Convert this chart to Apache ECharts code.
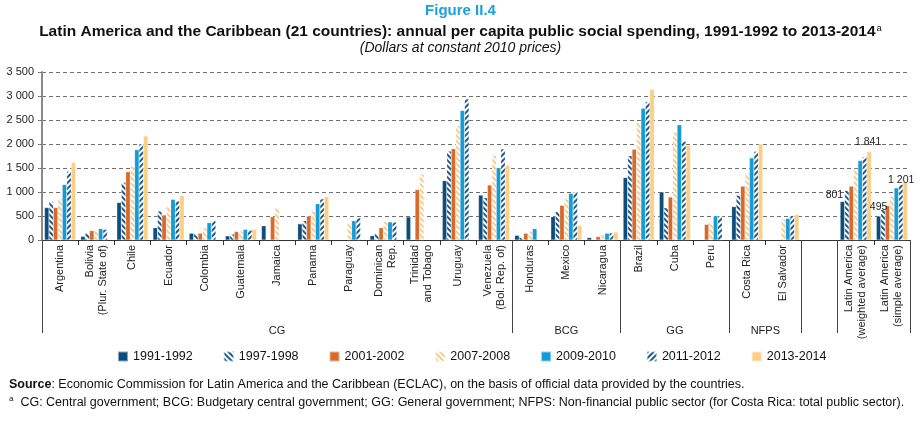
<!DOCTYPE html>
<html><head><meta charset="utf-8">
<script src="https://cdn.jsdelivr.net/npm/echarts@6/dist/echarts.min.js"></script>
<style>html,body{margin:0;padding:0;background:#fff}#c{width:921px;height:421px}</style>
</head><body><div id="c"></div>
<script>
// ---- data ----
const categories = ['Argentina','Bolivia\n(Plur. State of)','Chile','Ecuador','Colombia','Guatemala','Jamaica','Panama','Paraguay','Dominican\nRep.','Trinidad\nand Tobago','Uruguay','Venezuela\n(Bol. Rep. of)','Honduras','Mexico','Nicaragua','Brazil','Cuba','Peru','Costa Rica','El Salvador','','Latin America\n(weighted average)','Latin America\n(simple average)'];
const groupNames = ['CG','BCG','GG','NFPS'];
const groupCenters = [6.5, 14.5, 17.5, 20];
const groupBounds = [0, 13, 16, 19, 21, 22, 24];
const periods = ['1991-1992','1997-1998','2001-2002','2007-2008','2009-2010','2011-2012','2013-2014'];
const v1991 = [675, 75, 780, 255, 140, 85, 295, 335, null, 90, 480, 1235, 935, 95, 485, 50, 1300, 1000, null, 695, null, null, 801, 495];
const v1997 = [800, 140, 1200, 600, 130, 120, null, 400, null, 130, null, 1850, 880, 60, 590, null, 1755, 670, null, 930, null, null, 1030, 630];
const v2001 = [675, 195, 1420, 520, 140, 175, 485, 495, null, 255, 1050, 1900, 1145, 140, 720, 70, 1890, 895, 325, 1120, null, null, 1120, 715];
const v2007 = [870, 195, 1535, 700, 250, 185, 665, 600, 340, 380, 1375, 2380, 1760, 180, 855, 105, 2450, 2245, 370, 1395, 435, null, 1480, 910];
const v2009 = [1155, 235, 1880, 845, 360, 220, null, 755, 400, 375, null, 2695, 1505, 235, 970, 140, 2745, 2400, 500, 1710, 450, null, 1655, 1085];
const v2011 = [1430, 220, 2005, 810, 400, 205, null, 855, 460, 370, null, 2935, 1895, null, 1000, 145, 2880, 2055, 500, 1845, 505, null, 1730, 1155];
const v2013 = [1615, null, 2165, 925, null, 220, null, 900, null, null, null, null, 1555, null, 300, 165, 3140, 1970, null, 2000, 530, null, 1841, 1201];
const yMax = 3500, yStep = 500;

// ---- helpers ----
const FONT = 'Liberation Sans, Arial, sans-serif';
function fmt(n){ return String(n).replace(/\B(?=(\d{3})+(?!\d))/g, ' '); }
function hatch(c, rot){ return {symbol:'rect', symbolSize:1, color:c, dashArrayX:[1,0], dashArrayY:[1.6,1.7], rotation:rot}; }
const labelCfg = {
  0: {22: [-8, 3], 23: [0, 0]},
  6: {22: [-1, 0], 23: [-4, 7]}
};
function withLabels(vals, si){
  const cfg = labelCfg[si];
  if(!cfg) return vals;
  return vals.map((v,i)=> cfg[i] ? {value:v, label:{show:true, position:'top', distance:4, offset:cfg[i],
    formatter: p=>fmt(p.value), fontSize:10.5, fontFamily:FONT, color:'#222'}} : v);
}
const styles = [
  {color:'#0d4d7c'},
  {color:'#ffffff', decal:hatch('#1d5a8c', Math.PI/4)},
  {color:'#d9692a'},
  {color:'#ffffff', decal:hatch('#fbc98b', Math.PI/4)},
  {color:'#119cd8'},
  {color:'#ffffff', decal:hatch('#1d5a8c', -Math.PI/4)},
  {color:'#fdcf85'}
];
const allVals = [v1991, v1997, v2001, v2007, v2009, v2011, v2013];

const chart = echarts.init(document.getElementById('c'), null, {renderer:'canvas'});
chart.setOption({
  animation:false,
  textStyle:{fontFamily:FONT},
  title:[
    {text:'Figure II.4', left:'center', top:3, padding:0, textStyle:{fontSize:15, fontWeight:'bold', color:'#1ba1d9', fontFamily:FONT}},
    {text:'Latin America and the Caribbean (21 countries): annual per capita public social spending, 1991-1992 to 2013-2014{s|a}',
     left:'center', top:23, padding:0, textStyle:{fontSize:15.5, fontWeight:'bold', color:'#111', fontFamily:FONT,
     rich:{s:{fontSize:9.5, fontWeight:'normal', verticalAlign:'top', color:'#111', padding:[0,0,8,1]}}}},
    {text:'(Dollars at constant 2010 prices)', left:'center', top:41, padding:0, textStyle:{fontSize:14, fontStyle:'italic', fontWeight:'normal', color:'#111', fontFamily:FONT}},
    {text:'{b|Source}: Economic Commission for Latin America and the Caribbean (ECLAC), on the basis of official data provided by the countries.',
     left:9, top:378.5, padding:0, textStyle:{fontSize:12.5, fontWeight:'normal', color:'#111', fontFamily:FONT, rich:{b:{fontWeight:'bold', fontSize:12.5, fontFamily:FONT, color:'#111'}}}},
    {text:'{s|a}  CG: Central government; BCG: Budgetary central government; GG: General government; NFPS: Non-financial public sector (for Costa Rica: total public sector).',
     left:9, top:395, padding:0, textStyle:{fontSize:12.5, fontWeight:'normal', color:'#111', fontFamily:FONT, rich:{s:{fontSize:8, verticalAlign:'top', padding:[0,0,7,0], color:'#111'}}}}
  ],
  legend:{
    data:periods, left:117, top:350, itemWidth:10, itemHeight:10, itemGap:30, icon:'rect', padding:0,
    textStyle:{fontSize:12.5, color:'#111', fontFamily:FONT}
  },
  grid:{left:42, right:11, top:72, bottom:181, containLabel:false},
  xAxis:[
    {type:'category', data:categories, position:'bottom',
     axisLine:{show:true, lineStyle:{color:'#333', width:1}},
     axisTick:{show:true, interval:0, length:5, lineStyle:{color:'#333'}},
     axisLabel:{interval:0, rotate:90, fontSize:11, lineHeight:13, color:'#222', margin:5, fontFamily:FONT}},
    {type:'value', min:0, max:categories.length, position:'bottom',
     axisLine:{show:false}, splitLine:{show:false},
     axisTick:{show:true, customValues:groupBounds, length:93, lineStyle:{color:'#444', width:1}},
     axisLabel:{show:true, customValues:groupCenters, margin:85, fontSize:11, color:'#222',
       formatter:v=>{const i=groupCenters.indexOf(v); return i>=0?groupNames[i]:'';}}}
  ],
  yAxis:{type:'value', min:0, max:yMax, interval:yStep,
    axisLine:{show:true, lineStyle:{color:'#8a8a8a', width:2}},
    axisTick:{show:true, length:4, lineStyle:{color:'#777'}},
    axisLabel:{formatter:v=>fmt(v), fontSize:11, color:'#222', margin:8},
    splitLine:{show:true, lineStyle:{color:'#6e6e6e', type:[4,3], width:1}}},
  series: periods.map((p,si)=>({
    name:p, type:'bar', xAxisIndex:0, barGap:'0%', barCategoryGap:'14%',
    itemStyle:Object.assign({borderColor:'rgba(255,255,255,0.5)', borderWidth:0.4}, styles[si]),
    data:withLabels(allVals[si], si)
  }))
});
</script></body></html>
